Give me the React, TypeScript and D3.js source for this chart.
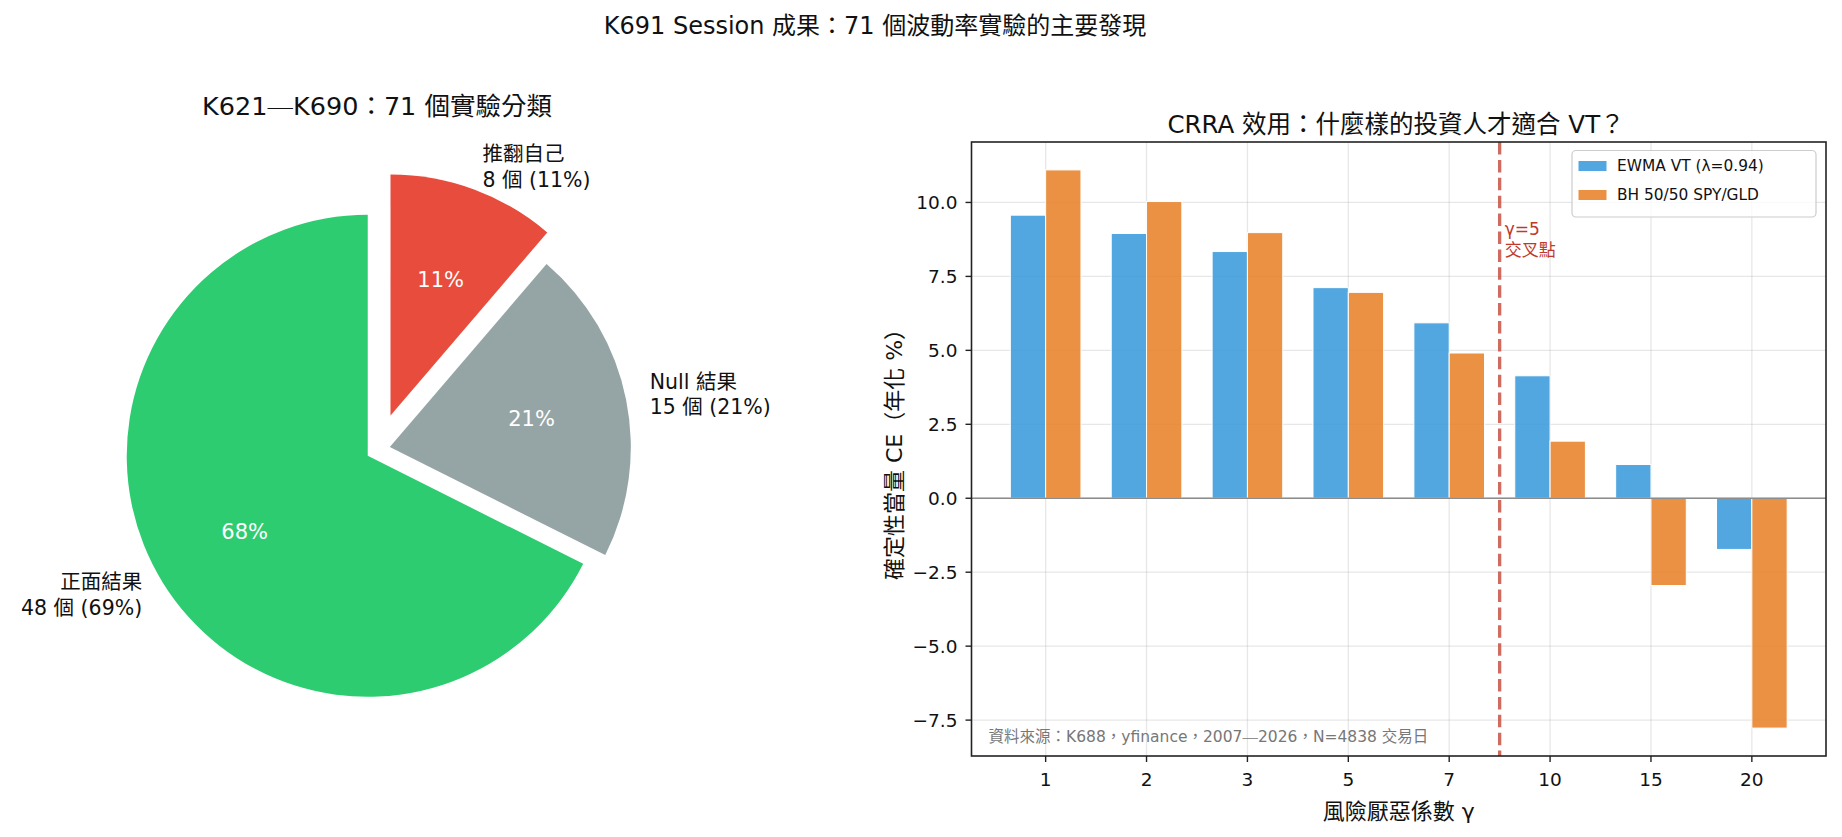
import * as d3 from "d3";
import React from "react";

const W = 1842;
const H = 837;
const FONT = '"DejaVu Sans", "Noto Sans CJK TC", sans-serif';
const CJK = '"Noto Sans CJK TC", sans-serif';

// pie: K621-K690 experiment classes
const pieNames = ["正面結果", "Null 結果", "推翻自己"];
const pieCounts = [48, 15, 8];
const pieNotes = ["48 個 (69%)", "15 個 (21%)", "8 個 (11%)"];
const pieColors = ["#2ecc71", "#95a5a6", "#e74c3c"];
const pieExplode = [0.05, 0.05, 0.15];

// bars: CRRA certainty equivalent
const gammaLabels = ["1", "2", "3", "5", "7", "10", "15", "20"];
const ewmaCE = [9.57, 8.95, 8.34, 7.12, 5.93, 4.14, 1.14, -1.73];
const bhCE = [11.1, 10.03, 8.98, 6.96, 4.91, 1.93, -2.95, -7.77];
const yTicks = [-7.5, -5, -2.5, 0, 2.5, 5, 7.5, 10];
const seriesNames = ["EWMA VT (λ=0.94)", "BH 50/50 SPY/GLD"];
const seriesColors = ["#3498db", "#e67e22"];

const fmt = (v: number) => (v < 0 ? "\u2212" : "") + Math.abs(v).toFixed(1);

function PieChart() {
  const cx = 378;
  const cy = 449.5;
  const R = 241;
  const arcs = d3
    .pie<number>()
    .sort(null)
    .startAngle(0)
    .endAngle(-2 * Math.PI)(pieCounts);
  const arc = d3.arc<d3.PieArcDatum<number>>().innerRadius(0).outerRadius(R);
  const total = d3.sum(pieCounts);

  return (
    <g>
      <text x={377} y={106} textAnchor="middle" dominantBaseline="central" fontSize={25.5} fill="#111">
        K621<tspan fontFamily={CJK}>─</tspan>K690：71 個實驗分類
      </text>
      {arcs.map((a, i) => {
        const mid = (a.startAngle + a.endAngle) / 2;
        const dx = Math.sin(mid);
        const dy = -Math.cos(mid);
        const ox = cx + pieExplode[i] * R * dx;
        const oy = cy + pieExplode[i] * R * dy;
        const lx = ox + 1.1 * R * dx;
        const ly = oy + 1.1 * R * dy;
        const anchor = dx > 0 ? "start" : "end";
        return (
          <g key={i}>
            <path d={arc(a) || ""} transform={`translate(${ox},${oy})`} fill={pieColors[i]} />
            <text
              x={ox + 0.6 * R * dx}
              y={oy + 0.6 * R * dy}
              textAnchor="middle"
              dominantBaseline="central"
              fontSize={21}
              fill="#fff"
            >
              {`${Math.round((pieCounts[i] / total) * 100)}%`}
            </text>
            <text x={lx} y={ly} textAnchor={anchor} fontSize={20.5} fill="#111">
              <tspan x={lx} y={ly - 12.7} dominantBaseline="central">{pieNames[i]}</tspan>
              <tspan x={lx} y={ly + 12.7} dominantBaseline="central">{pieNotes[i]}</tspan>
            </text>
          </g>
        );
      })}
    </g>
  );
}

function BarChart() {
  const left = 971.5;
  const right = 1826;
  const top = 142;
  const bottom = 756;
  const bw = 0.35;
  const n = gammaLabels.length;
  const xPad = (n - 1 + 2 * bw) * 0.05;
  const x = d3.scaleLinear().domain([-bw - xPad, n - 1 + bw + xPad]).range([left, right]);
  const all = ewmaCE.concat(bhCE);
  const lo = d3.min(all)!;
  const hi = d3.max(all)!;
  const yPad = (hi - lo) * 0.05;
  const y = d3.scaleLinear().domain([lo - yPad, hi + yPad]).range([bottom, top]);
  const series = [ewmaCE, bhCE];
  const bwPx = x(bw) - x(0);

  return (
    <g>
      <text x={1396} y={124.5} textAnchor="middle" dominantBaseline="central" fontSize={24.5} fill="#111">
        CRRA 效用：什麼樣的投資人才適合 VT？
      </text>
      {/* grid */}
      {gammaLabels.map((g, i) => (
        <line key={"gx" + i} x1={x(i)} x2={x(i)} y1={top} y2={bottom} stroke="#b0b0b0" strokeOpacity={0.3} strokeWidth={1.3} />
      ))}
      {yTicks.map((t) => (
        <line key={"gy" + t} x1={left} x2={right} y1={y(t)} y2={y(t)} stroke="#b0b0b0" strokeOpacity={0.3} strokeWidth={1.3} />
      ))}
      {/* bars */}
      {series.map((vals, s) =>
        vals.map((v, i) => {
          const xc = x(i + (s === 0 ? -bw / 2 : bw / 2));
          const y0 = y(0);
          const y1 = y(v);
          return (
            <rect
              key={`b${s}-${i}`}
              x={xc - bwPx / 2}
              y={Math.min(y0, y1)}
              width={bwPx}
              height={Math.abs(y1 - y0)}
              fill={seriesColors[s]}
              fillOpacity={0.85}
              stroke="#fff"
              strokeWidth={1}
            />
          );
        })
      )}
      <line x1={left} x2={right} y1={y(0)} y2={y(0)} stroke="#8c8c8c" strokeWidth={1.6} />
      {/* crossover marker */}
      <line x1={x(4.5)} x2={x(4.5)} y1={top} y2={bottom} stroke="#c0392b" strokeOpacity={0.75} strokeWidth={3.3} strokeDasharray="12.5,5.4" />
      <text x={x(4.55)} fontSize={17} fill="#c0392b">
        <tspan x={x(4.55)} y={y(9.1)} dominantBaseline="central">γ=5</tspan>
        <tspan x={x(4.55)} y={y(9.1) + 21} dominantBaseline="central">交叉點</tspan>
      </text>
      <text x={left + 0.02 * (right - left)} y={737} dominantBaseline="central" fontSize={15.5} fill="#777">
        資料來源：K688，yfinance，2007<tspan fontFamily={CJK}>─</tspan>2026，N=4838 交易日
      </text>
      {/* spines */}
      <rect x={left} y={top} width={right - left} height={bottom - top} fill="none" stroke="#222" strokeWidth={1.6} />
      {/* x axis */}
      {gammaLabels.map((g, i) => (
        <g key={"xt" + i}>
          <line x1={x(i)} x2={x(i)} y1={bottom} y2={bottom + 6} stroke="#222" strokeWidth={1.4} />
          <text x={x(i)} y={779.5} textAnchor="middle" dominantBaseline="central" fontSize={18.5} fill="#111">
            {g}
          </text>
        </g>
      ))}
      <text x={(left + right) / 2} y={811} textAnchor="middle" dominantBaseline="central" fontSize={22} fill="#111">
        風險厭惡係數 γ
      </text>
      {/* y axis */}
      {yTicks.map((t) => (
        <g key={"yt" + t}>
          <line x1={left - 6} x2={left} y1={y(t)} y2={y(t)} stroke="#222" strokeWidth={1.4} />
          <text x={left - 14} y={y(t)} textAnchor="end" dominantBaseline="central" fontSize={18.5} fill="#111">
            {fmt(t)}
          </text>
        </g>
      ))}
      <text
        transform={`translate(894,${(top + bottom) / 2}) rotate(-90)`}
        textAnchor="middle"
        dominantBaseline="central"
        fontSize={22}
        fill="#111"
      >
        確定性當量 CE（年化 %）
      </text>
      {/* legend */}
      <rect x={1572} y={150.5} width={244} height={66.5} rx={4} fill="#fff" fillOpacity={0.8} stroke="#cccccc" strokeWidth={1.2} />
      {seriesNames.map((name, s) => {
        const ry = 166 + s * 29;
        return (
          <g key={"lg" + s}>
            <rect x={1578} y={ry - 5.5} width={29} height={11} fill={seriesColors[s]} fillOpacity={0.85} stroke="#fff" strokeWidth={1} />
            <text x={1617} y={ry} dominantBaseline="central" fontSize={15.4} fill="#111">
              {name}
            </text>
          </g>
        );
      })}
    </g>
  );
}

export default function App() {
  return (
    <svg
      width={W}
      height={H}
      viewBox={`0 0 ${W} ${H}`}
      style={{ position: "absolute", left: 0, top: 0, background: "#fff" }}
      fontFamily={FONT}
    >
      <rect width={W} height={H} fill="#fff" />
      <text x={875} y={26} textAnchor="middle" dominantBaseline="central" fontSize={24} fill="#111">
        K691 Session 成果：71 個波動率實驗的主要發現
      </text>
      <PieChart />
      <BarChart />
    </svg>
  );
}
